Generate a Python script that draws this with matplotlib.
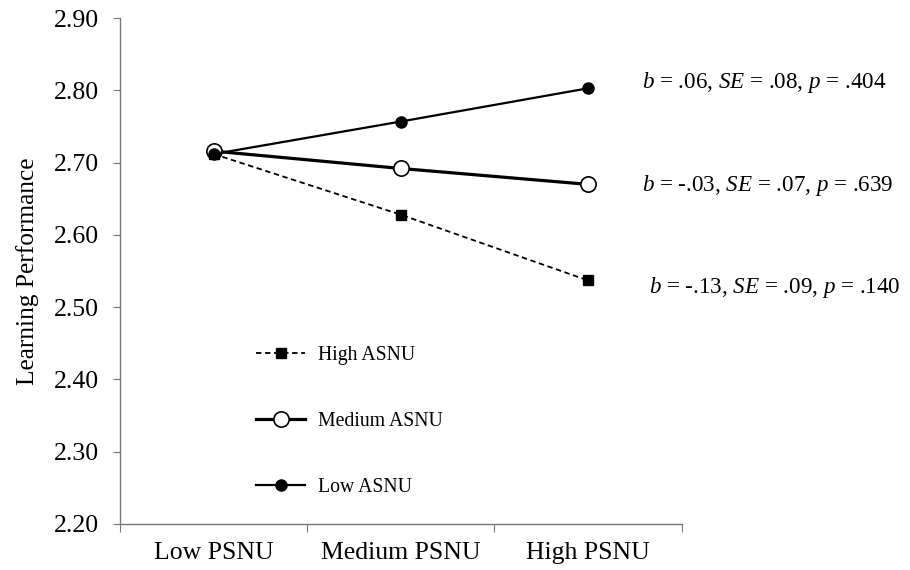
import matplotlib
matplotlib.use("Agg")
import matplotlib.pyplot as plt
from matplotlib.ticker import FixedLocator, FormatStrFormatter

plt.rcParams['font.family'] = ['Liberation Serif', 'DejaVu Serif']
plt.rcParams['mathtext.fontset'] = 'custom'
plt.rcParams['mathtext.rm'] = 'Liberation Serif'
plt.rcParams['mathtext.it'] = 'Liberation Serif:italic'

categories = ["Low PSNU", "Medium PSNU", "High PSNU"]
high_asnu = [2.712, 2.628, 2.537]
medium_asnu = [2.716, 2.692, 2.670]
low_asnu = [2.712, 2.757, 2.803]
annotations = [
    r"$b$ = .06, $SE$ = .08, $p$ = .404",
    r"$b$ = -.03, $SE$ = .07, $p$ = .639",
    r"$b$ = -.13, $SE$ = .09, $p$ = .140",
]
yticks = [2.20, 2.30, 2.40, 2.50, 2.60, 2.70, 2.80, 2.90]

fig = plt.figure(figsize=(9.1, 5.7), dpi=100)
ax = fig.add_axes([0.132, 0.081, 0.617, 0.887])

x = list(range(len(categories)))
ax.plot(x, high_asnu, color='black', linestyle=(0, (3, 2)), linewidth=1.3,
        marker='s', markersize=7, markerfacecolor='black', label='High ASNU', zorder=3)
ax.plot(x, medium_asnu, color='black', linestyle='-', linewidth=2.3,
        marker='o', markersize=11, markerfacecolor='white', markeredgewidth=1.2,
        label='Medium ASNU', zorder=4)
ax.plot(x, low_asnu, color='black', linestyle='-', linewidth=1.6,
        marker='o', markersize=8, markerfacecolor='black', label='Low ASNU', zorder=5)

ax.set_xlim(-0.5, 2.5)
ax.set_ylim(2.20, 2.90)
ax.xaxis.set_major_locator(FixedLocator([-0.5, 0.5, 1.5, 2.5]))
ax.xaxis.set_major_formatter(plt.NullFormatter())
ax.xaxis.set_minor_locator(FixedLocator(x))
ax.set_xticklabels(categories, minor=True)
ax.tick_params(axis='x', which='minor', length=0, pad=13, labelsize=18.5)
ax.tick_params(axis='x', which='major', length=6, direction='out', color='#777777')
ax.set_yticks(yticks)
ax.yaxis.set_major_formatter(FormatStrFormatter('%.2f'))
ax.tick_params(axis='y', which='major', length=5, direction='out', labelsize=18.5, pad=10, color='#777777')

for side in ['top', 'right']:
    ax.spines[side].set_visible(False)
for side in ['left', 'bottom']:
    ax.spines[side].set_color('#777777')
    ax.spines[side].set_linewidth(1.0)

ax.set_ylabel("Learning Performance", fontsize=18.3, labelpad=11)

ann_y = [low_asnu[-1], medium_asnu[-1], high_asnu[-1]]
ann_dy = [0.008, -0.001, -0.010]
ann_dx = [0.289, 0.289, 0.326]
for txt, yv, dx, dy in zip(annotations, ann_y, ann_dx, ann_dy):
    ax.text(2 + dx, yv + dy, txt, fontsize=16.6, va='center', ha='left', clip_on=False)

leg = ax.legend(loc='upper left', bbox_to_anchor=(0.228, 0.368), frameon=False,
                fontsize=14.2, handlelength=2.5, labelspacing=2.39, handletextpad=0.65,
                borderaxespad=0)

fig.savefig("out.png", dpi=100)
